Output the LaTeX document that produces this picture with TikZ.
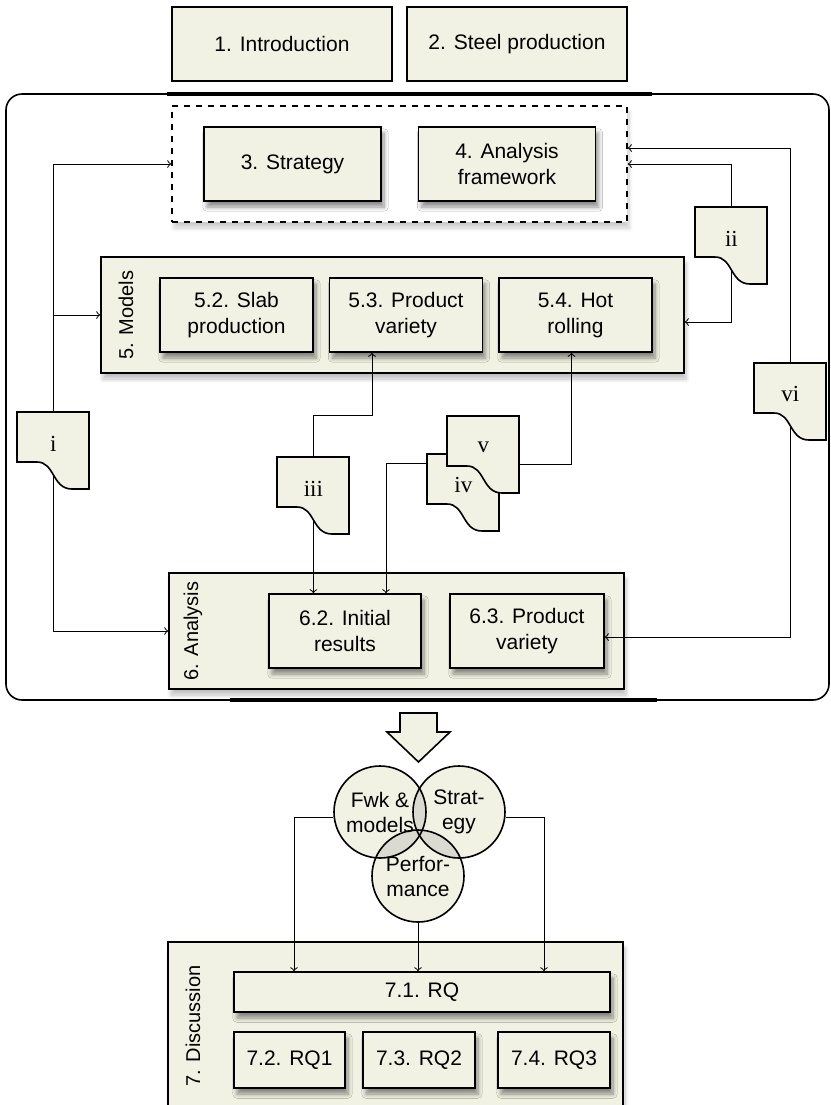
\documentclass[tikz,border=0pt]{standalone}
\usepackage{fontspec}
\setmainfont{Liberation Sans}
\newfontfamily\docfont{Liberation Serif}
\usetikzlibrary{positioning,shapes,arrows,fit,calc,shadows.blur}

\definecolor{boxfill}{HTML}{F2F2E4}
\definecolor{overlapfill}{HTML}{DADAD0}

\tikzset{
  box/.style={rectangle, draw, line width=0.8pt, fill=boxfill, align=center, inner sep=2pt,
    font=\fontsize{10.5}{13}\selectfont},
  shadowbox/.style={box, blur shadow={shadow xshift=1.5pt, shadow yshift=-3pt, shadow blur steps=8, shadow opacity=45}},
  group/.style={rectangle, draw, line width=0.8pt, fill=boxfill,
    blur shadow={shadow xshift=1pt, shadow yshift=-3pt, shadow blur steps=8, shadow opacity=25}},
  dashgroup/.style={rectangle, draw, dashed, line width=0.8pt, fill=white,
    blur shadow={shadow xshift=1pt, shadow yshift=-3pt, shadow blur steps=8, shadow opacity=20}},
  sidelabel/.style={rotate=90, inner sep=0pt, font=\fontsize{10}{12}\selectfont},
  docnode/.style={rectangle, anchor=north west, minimum width=36pt, minimum height=31pt, inner sep=0pt,
    font=\docfont\fontsize{11.5}{13}\selectfont},
  docline/.style={draw, line width=0.8pt, fill=boxfill},
  venn/.style={circle, draw, line width=0.8pt, minimum size=46pt, inner sep=0pt, align=center,
    font=\fontsize{10.5}{12.5}\selectfont},
  arr/.style={->, line width=0.5pt},
}

% wavy document: name, top-left x, top-left y, label
\newcommand{\wavedoc}[4]{%
  \filldraw[docline] (#2,#3) -- ++(72,0) -- ++(0,77) -- ++(-17,0)
    .. controls +(-20,0) and +(18,0) .. ++(-35,-27) -- ++(-20,0) -- cycle;
  \node[docnode] (#1) at (#2,#3) {#4};
}

\begin{document}
\begin{tikzpicture}[x=0.5pt,y=-0.5pt]
\useasboundingbox (0,0) rectangle (831,1105);

% introduction chapters
\node[box, minimum width=110pt, minimum height=37pt] (intro) at (282,44) {1. Introduction};
\node[box, minimum width=110pt, minimum height=37pt] (steel) at (517,44) {2. Steel production};

% main frame
\node[draw, rounded corners=8pt, line width=0.8pt, minimum width=411.5pt, minimum height=303pt] (outer) at (417.5,397) {};
\draw[line width=2pt] (167,94) -- (652,94);
\draw[line width=2pt] (230,700) -- (657,700);

\node[dashgroup, minimum width=227.5pt, minimum height=58pt] (group) at (399.5,164) {};
\node[shadowbox, minimum width=88.5pt, minimum height=37pt] (strategy) at (292.5,164) {3. Strategy};
\node[shadowbox, minimum width=88.5pt, minimum height=37pt] (framework) at (507,164) {4. Analysis\\framework};

\node[group, minimum width=291.5pt, minimum height=58pt] (models) at (392.5,315) {};
\node[sidelabel] (modelslabel) at (126,315) {5. Models};
\node[shadowbox, minimum width=76.5pt, minimum height=37pt] (slab) at (236.5,315) {5.2. Slab\\production};
\node[shadowbox, minimum width=76.5pt, minimum height=37pt] (variety) at (406,315) {5.3. Product\\variety};
\node[shadowbox, minimum width=76.5pt, minimum height=37pt] (rolling) at (575.5,315) {5.4. Hot\\rolling};

\node[group, minimum width=227.5pt, minimum height=58pt] (analysis) at (396.5,631) {};
\node[sidelabel] (analysislabel) at (193,631) {6. Analysis};
\node[shadowbox, minimum width=76pt, minimum height=37pt] (initial) at (345,631) {6.2. Initial\\results};
\node[shadowbox, minimum width=77pt, minimum height=37pt] (prodvar) at (527,631) {6.3. Product\\variety};

% documents
\wavedoc{i}{17}{412}{i}
\wavedoc{ii}{695}{207}{ii}
\wavedoc{vi}{754}{363}{vi}
\wavedoc{iii}{277}{457}{iii}
\wavedoc{iv}{427}{454}{iv}
\wavedoc{v}{447}{416}{v}

\draw[arr] (i.north) |- (group.west);
\draw[arr] (i.north) |- (models.west);
\draw[arr] (i.south) |- (analysis.west);
\draw[arr] (ii.north) |- (group.east);
\draw[arr] (ii.south) |- ($(models.east)+(0,7)$);
\draw[arr] (vi.north) |- ($(group.east)+(0,-16)$);
\draw[arr] (vi.south) |- ($(prodvar.east)+(0,6)$);
\draw[arr] (iii.north) -- ++(0,-42) -| ($(variety.south)+(-34,0)$);
\draw[arr] (iii.south) -- (iii.south |- initial.north);
\draw[arr] ($(iv.north west)+(0,9)$) -| ($(initial.north)+(41,0)$);
\draw[arr] ($(v.north east)+(0,48)$) -| ($(rolling.south)+(-4,0)$);

% big arrow
\filldraw[fill=boxfill, line width=0.8pt] (400,713) -- (437,713) -- (437,732) -- (450,732) -- (418.5,762)
  -- (387,732) -- (400,732) -- cycle;

% venn
\fill[boxfill] (380,812) circle (23pt) (459,812) circle (23pt) (418,876) circle (23pt);
\begin{scope}
  \clip (380,812) circle (23pt);
  \fill[overlapfill] (459,812) circle (23pt) (418,876) circle (23pt);
\end{scope}
\begin{scope}
  \clip (459,812) circle (23pt);
  \fill[overlapfill] (418,876) circle (23pt);
\end{scope}
\node[venn] (fwk) at (380,812) {Fwk \&\\models};
\node[venn] (strat) at (459,812) {Strat-\\egy};
\node[venn] (perf) at (418,876) {Perfor-\\mance};

% discussion
\node[group, minimum width=227.5pt, minimum height=84pt] (discussion) at (395.5,1026) {};
\node[sidelabel] (discussionlabel) at (193,1026) {7. Discussion};
\node[shadowbox, minimum width=188pt, minimum height=20pt] (rq) at (422,992) {7.1. RQ};
\node[shadowbox, minimum width=55.5pt, minimum height=28pt] (rq1) at (289.5,1060) {7.2. RQ1};
\node[shadowbox, minimum width=56pt, minimum height=28pt] (rq2) at (419,1060) {7.3. RQ2};
\node[shadowbox, minimum width=56pt, minimum height=28pt] (rq3) at (554,1060) {7.4. RQ3};

\draw[arr] ($(fwk.west)+(0,5)$) -| ($(rq.north)+(-128,0)$);
\draw[arr] (perf.south) -- (perf.south |- rq.north);
\draw[arr] ($(strat.east)+(0,5)$) -| ($(rq.north)+(122,0)$);
\end{tikzpicture}
\end{document}
